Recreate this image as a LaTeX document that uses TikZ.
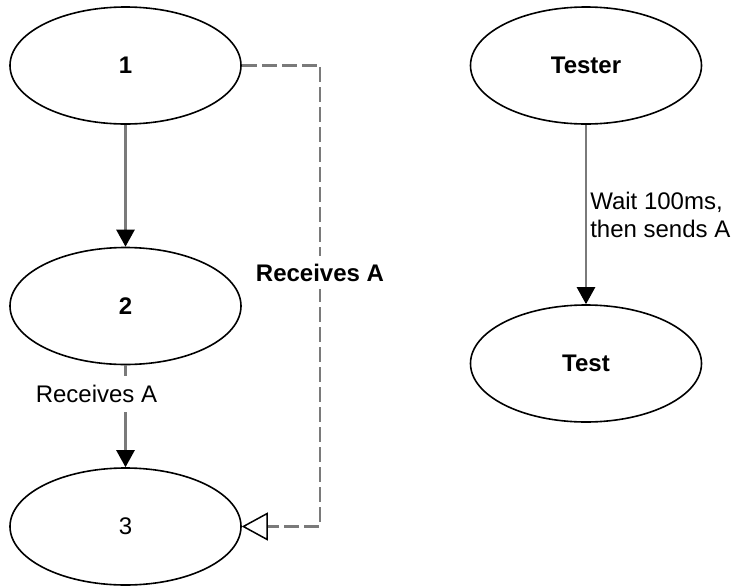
\documentclass[tikz,border=0pt]{standalone}
\usepackage{fontspec}
\setmainfont{Liberation Sans}
\usetikzlibrary{shapes.geometric,arrows.meta}
\definecolor{edgegray}{HTML}{7A7A7A}
\begin{document}
\begin{tikzpicture}[x=1pt,y=-1pt,
  state/.style={ellipse,draw=black,line width=1.6pt,minimum width=231pt,minimum height=117pt,inner sep=0pt,font=\fontsize{24}{28}\selectfont},
  flow/.style={draw=edgegray,line width=2.5pt,-{Triangle[length=17pt,width=18pt,color=black]}},
  dashflow/.style={draw=edgegray,line width=2.5pt,dash pattern=on 15pt off 5pt,-{Triangle[open,length=26pt,width=28pt,color=black,fill=white,line width=1.5pt]}},
  lbl/.style={font=\fontsize{24}{28}\selectfont,inner sep=2pt}
]
\useasboundingbox (0,0) rectangle (732,587);
\node[state] (n1) at (125.5,65.5) {\bfseries 1};
\node[state] (n2) at (125.5,306) {\bfseries 2};
\node[state] (n3) at (125.5,526.5) {3};
\node[state] (tester) at (586,65.5) {\bfseries Tester};
\node[state] (test) at (586,363.5) {\bfseries Test};
\coordinate (c1) at (320,65.5);
\coordinate (c2) at (320,526.5);
\draw[flow] (n1) -- (n2);
\draw[flow] (n2) -- node[lbl,fill=white,pos=0.28,xshift=-29pt,inner ysep=9pt] (l23) {Receives A} (n3);
\draw[dashflow] (n1.east) -- (c1) -- node[lbl,fill=white,pos=0.449,font=\fontsize{24}{28}\selectfont\bfseries,inner ysep=8pt] (ldash) {Receives A} (c2) -- (n3.east);
\draw[flow] (tester) -- node[lbl,pos=0.5,anchor=west,align=left,xshift=1pt] (lwait) {Wait 100ms,\\then sends A} (test);
\end{tikzpicture}
\end{document}
